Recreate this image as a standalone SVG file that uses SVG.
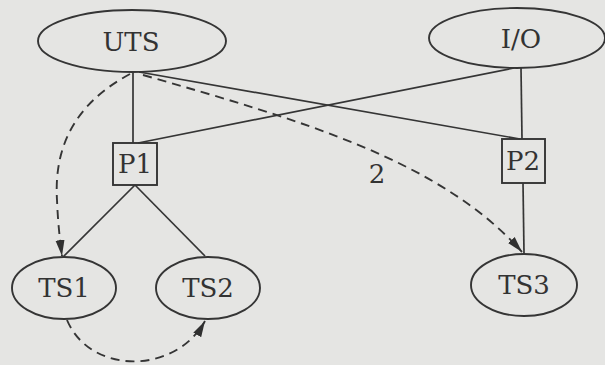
<svg xmlns="http://www.w3.org/2000/svg" width="605" height="365" viewBox="0 0 605 365">
  <defs>
    <style>
      .node ellipse, .node rect { fill: none; stroke: #353535; stroke-width: 1.9; }
      text { font-family: "DejaVu Serif", "Liberation Serif", serif; font-size: 26px; fill: #333; text-anchor: middle; }
      .edge { fill: none; stroke: #353535; stroke-width: 1.7; }
      .dash { fill: none; stroke: #353535; stroke-width: 1.9; stroke-dasharray: 9 6; }
    </style>
    <marker id="arrow" viewBox="0 0 16 10" refX="16" refY="5" markerWidth="16" markerHeight="10" markerUnits="userSpaceOnUse" orient="auto">
      <path d="M0,0.5 L16,5 L0,9.5 Z" fill="#303030"/>
    </marker>
  </defs>

  <rect width="605" height="365" fill="#e5e5e3"/>

  <g id="connectors">
    <line class="edge" x1="133" y1="72" x2="133" y2="143"/>
    <line class="edge" x1="139" y1="72" x2="520" y2="139"/>
    <line class="edge" x1="514" y1="68" x2="138" y2="143"/>
    <line class="edge" x1="521" y1="68" x2="522" y2="139"/>
    <line class="edge" x1="523" y1="183" x2="524" y2="253"/>
    <line class="edge" x1="135" y1="185" x2="63" y2="257"/>
    <line class="edge" x1="135" y1="185" x2="205" y2="256"/>
    <path class="dash" d="M130,74 C 72,105 54,150 57,200 C 58,225 60,240 62,256" marker-end="url(#arrow)"/>
    <path class="dash" d="M143,75 C 300,120 440,160 522,252" marker-end="url(#arrow)"/>
    <path class="dash" d="M67,320 C 90,375 175,375 205,321" marker-end="url(#arrow)"/>
    <text x="377" y="183">2</text>
  </g>

  <g id="UTS" class="node">
    <ellipse cx="132" cy="41" rx="94" ry="31"/>
    <text x="131" y="51">UTS</text>
  </g>
  <g id="IO" class="node">
    <ellipse cx="517" cy="38" rx="88" ry="30"/>
    <text x="521" y="48">I/O</text>
  </g>
  <g id="P1" class="node">
    <rect x="113" y="143" width="44" height="42"/>
    <text x="135" y="173">P1</text>
  </g>
  <g id="P2" class="node">
    <rect x="502" y="139" width="43" height="44"/>
    <text x="523" y="170">P2</text>
  </g>
  <g id="TS1" class="node">
    <ellipse cx="64" cy="288" rx="52" ry="31"/>
    <text x="64" y="297">TS1</text>
  </g>
  <g id="TS2" class="node">
    <ellipse cx="208" cy="288" rx="52" ry="31"/>
    <text x="208" y="297">TS2</text>
  </g>
  <g id="TS3" class="node">
    <ellipse cx="524" cy="285" rx="53" ry="31"/>
    <text x="524" y="294">TS3</text>
  </g>
</svg>
